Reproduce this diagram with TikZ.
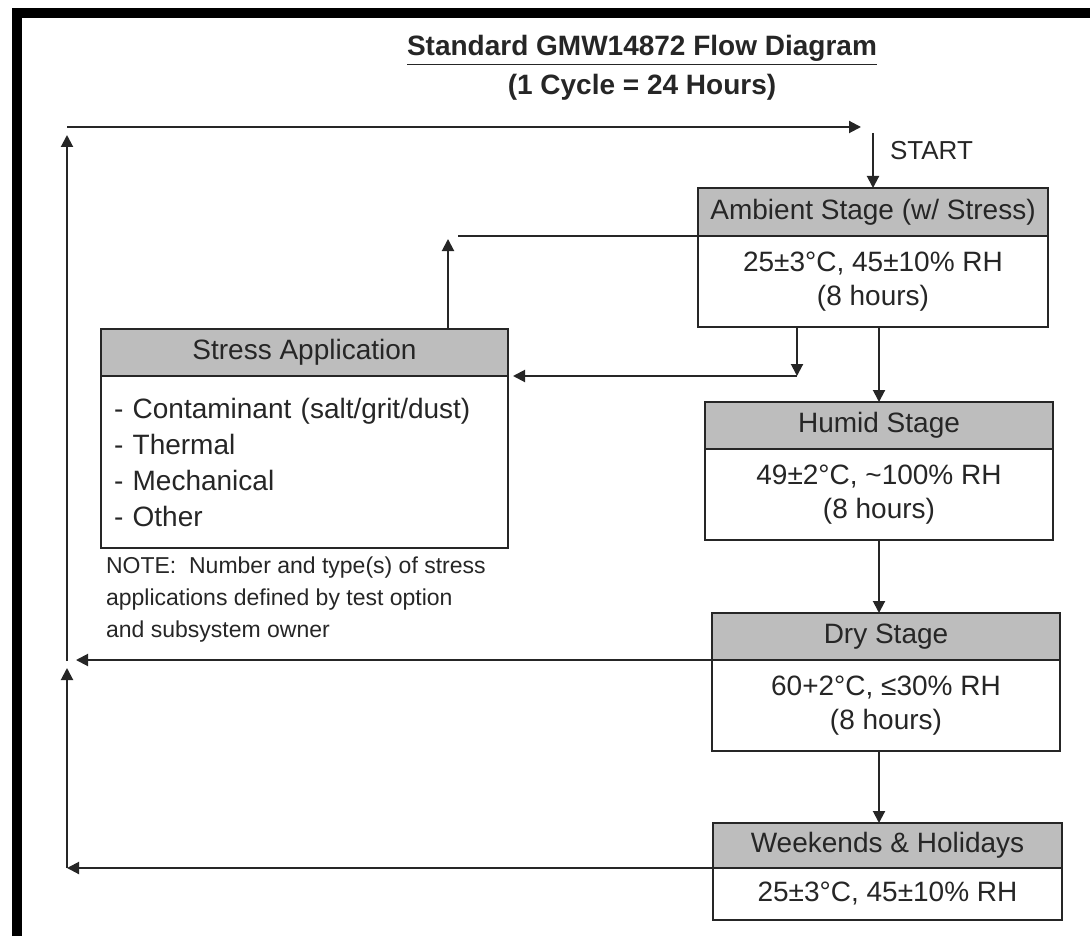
\documentclass[tikz,border=0pt]{standalone}
\usepackage{fontspec}
\setmainfont{Liberation Sans}
\usetikzlibrary{positioning,arrows.meta}
\definecolor{headgray}{HTML}{BDBDBD}
\definecolor{ink}{HTML}{262626}

\begin{document}
\begin{tikzpicture}[x=0.5pt,y=-0.5pt,
    head/.style={draw=ink, line width=1pt, fill=headgray, outer sep=0pt,
      inner sep=0pt, text=ink, font=\fontsize{14}{17}\selectfont},
    body/.style={draw=ink, line width=1pt, fill=white, outer sep=0pt,
      inner sep=0pt, align=center, text=ink, font=\fontsize{14}{17}\selectfont},
    arr/.style={draw=ink, line width=1pt, -{Triangle[length=6pt,width=6pt]}}]
  \useasboundingbox (0,0) rectangle (1090,936);
  % frame
  \draw [line width=5pt] (16.5,936) -- (16.5,13) -- (1090,13);
  % title
  \node [font=\bfseries\fontsize{14}{17}\selectfont, text=ink] (title) at (642,50)
    {\underline{Standard GMW14872 Flow Diagram}};
  \node [font=\bfseries\fontsize{14}{17}\selectfont, text=ink] (cycle) at (642,87)
    {(1 Cycle = 24 Hours)};
  % stages
  \node [head, minimum width=175pt, minimum height=24pt] (amb) at (873,212)
    {Ambient Stage (w/ Stress)};
  \node [body, minimum width=175pt, minimum height=45.5pt, below=0pt of amb] (ambb)
    {25±3°C, 45±10\% RH\\(8 hours)};
  \node [head, minimum width=174pt, minimum height=23.5pt] (hum) at (879,425.5)
    {Humid Stage};
  \node [body, minimum width=174pt, minimum height=45.5pt, below=0pt of hum] (humb)
    {49±2°C, \textasciitilde100\% RH\\(8 hours)};
  \node [head, minimum width=174pt, minimum height=23.5pt] (dry) at (886,636.5)
    {Dry Stage};
  \node [body, minimum width=174pt, minimum height=45.5pt, below=0pt of dry] (dryb)
    {60+2°C, ≤30\% RH\\(8 hours)};
  \node [head, minimum width=174.5pt, minimum height=22.5pt] (wkd) at (887.5,845.5)
    {Weekends \& Holidays};
  \node [body, minimum width=174.5pt, minimum height=26pt, below=0pt of wkd] (wkdb)
    {25±3°C, 45±10\% RH};
  % stress
  \node [head, minimum width=203.5pt, minimum height=23.5pt] (str) at (304.5,352.5)
    {Stress Application};
  \node [body, align=left, inner xsep=6.5pt, text width=190.5pt,
    minimum height=86pt, font=\fontsize{14}{18}\selectfont, below=0pt of str] (strb)
    {- Contaminant (salt/grit/dust)\\- Thermal\\- Mechanical\\- Other};
  \node [anchor=west, align=left, text=ink, font=\fontsize{11.5}{16}\selectfont]
    (note) at (99,600)
    {NOTE:\ \ Number and type(s) of stress\\applications defined by test option\\and subsystem owner};
  \node [anchor=west, text=ink, font=\fontsize{13}{15}\selectfont] (start) at (883,151) {START};
  % loop
  \coordinate (tl) at (67,127);
  \coordinate (tr) at (861,127);
  \coordinate (st) at (873,133);
  \coordinate (ltop) at (67,135);
  \coordinate (lmid) at (67,661);
  \coordinate (ldry) at (76,660);
  \coordinate (lbot) at (67,868);
  \coordinate (lup) at (67,668);
  \coordinate (aret) at (458,236);
  \coordinate (sret) at (448,239);
  \coordinate (adn) at (797,376);
  \draw [arr] (tl) -- (tr);
  \draw [arr] (st) -- (amb.north);
  \draw [arr] (ambb.south -| humb.north) -- (hum.north);
  \draw [arr] (humb.south) -- (humb.south |- dry.north);
  \draw [arr] (dryb.south -| humb.south) -- (wkd.north -| humb.south);
  \draw [arr] (ambb.south -| adn) -- (adn);
  \draw [arr, shorten >=2.5pt] (adn) -- (str.south east);
  \draw [draw=ink, line width=1pt] (amb.south west) -- (aret);
  \draw [arr] (str.north -| sret) -- (sret);
  \draw [arr] (dry.south west) -- (ldry);
  \draw [arr] (wkd.south west) -- (lbot);
  \draw [arr] (lbot) -- (lup);
  \draw [arr] (lmid) -- (ltop);
\end{tikzpicture}
\end{document}
